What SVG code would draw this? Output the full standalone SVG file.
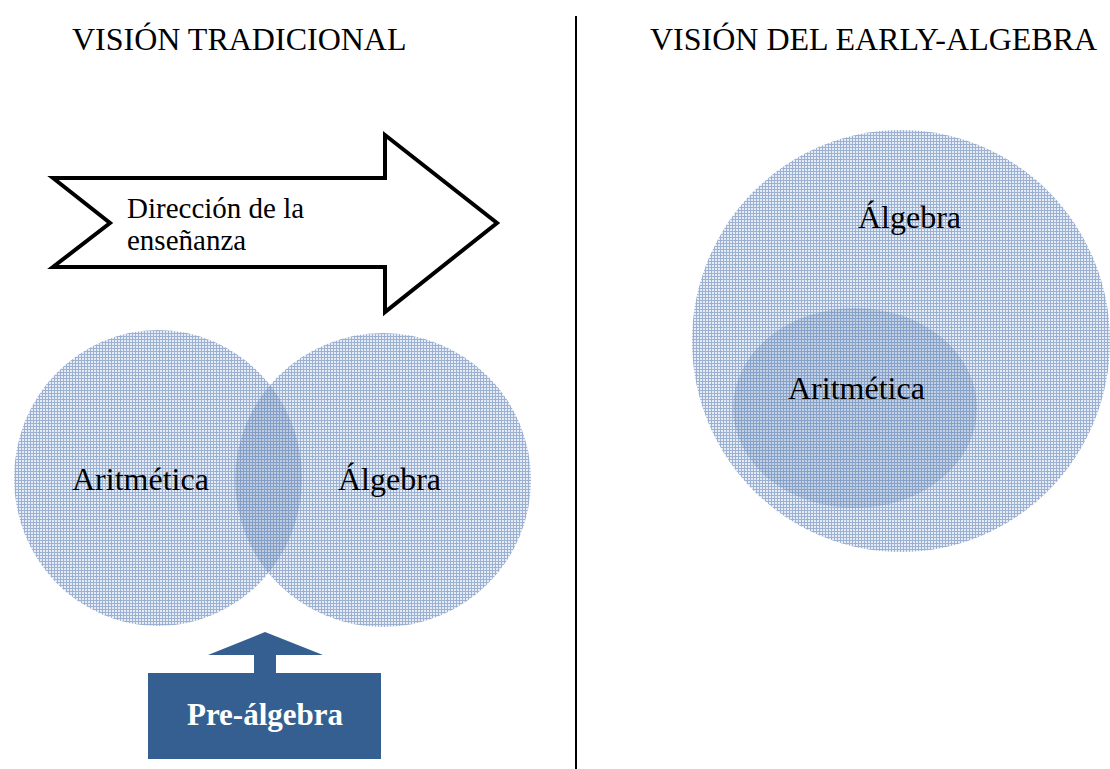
<svg xmlns="http://www.w3.org/2000/svg" width="1110" height="769" viewBox="0 0 1110 769">
<defs>
<pattern id="grid" width="3" height="3" patternUnits="userSpaceOnUse">
<rect width="3" height="3" fill="#e6ecf5"/>
<rect width="1" height="3" fill="#9cb1d1"/>
<rect width="3" height="1" fill="#9cb1d1"/>
</pattern>
<pattern id="gridDark" width="3" height="3" patternUnits="userSpaceOnUse">
<rect width="3" height="3" fill="#b9c8de"/>
<rect width="1" height="3" fill="#7f9bc4"/>
<rect width="3" height="1" fill="#7f9bc4"/>
</pattern>
<clipPath id="clipRight"><ellipse cx="383" cy="480" rx="148" ry="147"/></clipPath>
</defs>
<style>
text{font-family:"Liberation Serif","Times New Roman",serif;fill:#000}
.title{font-size:32px}
.lbl{font-size:32px}
.shape{fill:url(#grid)}
.dark{fill:url(#gridDark)}
.pre{fill:#365f91}
</style>

<g id="title-left"><text class="title" x="72" y="50" font-family="Liberation Serif, serif">VISIÓN TRADICIONAL</text></g>
<g id="title-right"><text class="title" x="650" y="50" font-family="Liberation Serif, serif">VISIÓN DEL EARLY-ALGEBRA</text></g>

<g id="divider"><line x1="576" y1="16" x2="576" y2="769" stroke="#000" stroke-width="2"/></g>

<g id="direction-arrow">
<polygon points="53,178 110,223 53,267 385,267 385,312 497,223 385,135 385,178" fill="#fff" stroke="#000" stroke-width="4" stroke-linejoin="miter"/>
<text font-family="Liberation Serif, serif" font-size="29" x="127" y="218">Dirección de la</text>
<text font-family="Liberation Serif, serif" font-size="29" x="127" y="250">enseñanza</text>
</g>

<g id="aritmetica-left">
<ellipse class="shape" cx="158" cy="478" rx="144" ry="148"/>
</g>
<g id="algebra-left">
<ellipse class="shape" cx="383" cy="480" rx="148" ry="147"/>
</g>
<g id="overlap">
<ellipse class="dark" cx="158" cy="478" rx="144" ry="148" clip-path="url(#clipRight)" opacity="0.85"/>
</g>
<g id="labels-left">
<text class="lbl" font-family="Liberation Serif, serif" x="72" y="490">Aritmética</text>
<text class="lbl" font-family="Liberation Serif, serif" x="338" y="490">Álgebra</text>
</g>

<g id="pre-algebra">
<polygon class="pre" points="265,632 323,655 276,655 276,674 254,674 254,655 208,655"/>
<rect class="pre" x="148" y="673" width="233" height="86"/>
<text font-family="Liberation Serif, serif" font-size="31" font-weight="bold" x="265" y="725" text-anchor="middle" style="fill:#fff">Pre-álgebra</text>
</g>

<g id="algebra-right">
<ellipse class="shape" cx="901" cy="341" rx="209" ry="211"/>
<text class="lbl" font-family="Liberation Serif, serif" x="858" y="228">Álgebra</text>
</g>
<g id="aritmetica-right">
<ellipse class="dark" cx="855" cy="408" rx="122" ry="100" opacity="0.75"/>
<text class="lbl" font-family="Liberation Serif, serif" x="788" y="399">Aritmética</text>
</g>
</svg>
